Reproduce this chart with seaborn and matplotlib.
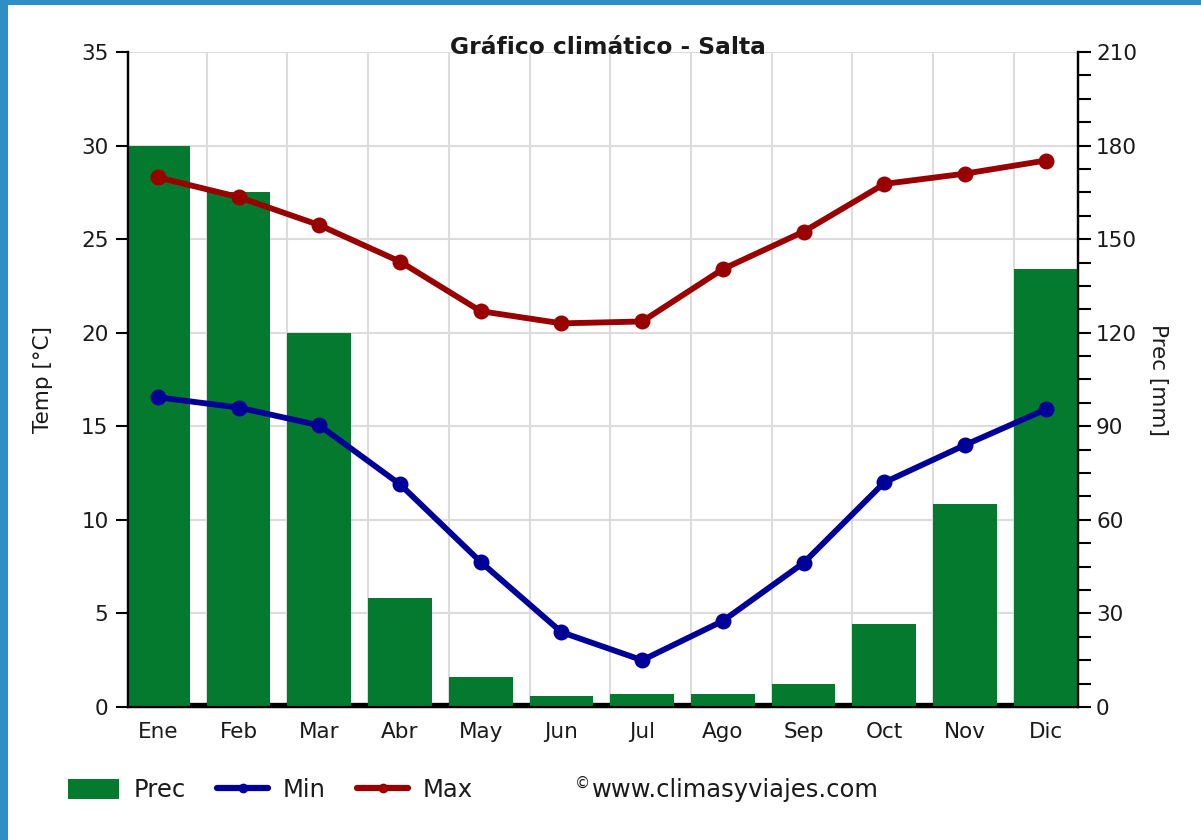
import numpy as np
import matplotlib
matplotlib.use("Agg")
import matplotlib.pyplot as plt
from matplotlib.patches import Rectangle, Patch
from matplotlib.lines import Line2D
from matplotlib.ticker import MultipleLocator, FixedLocator
import seaborn as sns

months = ["Ene", "Feb", "Mar", "Abr", "May", "Jun", "Jul", "Ago", "Sep", "Oct", "Nov", "Dic"]
prec = [180, 165, 120, 35, 9.7, 3.5, 4.3, 4.3, 7.4, 26.5, 65, 140.4]
tmin = [16.55, 16.0, 15.05, 11.9, 7.75, 4.0, 2.5, 4.6, 7.7, 12.0, 14.0, 15.9]
tmax = [28.3, 27.25, 25.75, 23.8, 21.15, 20.5, 20.6, 23.4, 25.4, 27.95, 28.5, 29.2]

GREEN = "#047A2E"
BLUE = "#000099"
RED = "#990000"
GRID = "#DCDCDC"
BORDER = "#2E8FC4"
TXT = "#1a1a1a"

sns.set_style("white")
plt.rcParams["font.family"] = ["DejaVu Sans"]
FS = 15.5
FSL = 17.5

fig = plt.figure(figsize=(12.01, 8.40), dpi=100)
fig.patch.set_facecolor("white")
ax_p = fig.add_axes([128 / 1201, 1 - 707 / 840, 950 / 1201, 655 / 840])
ax_t = ax_p.twinx()

x = np.arange(len(months))
bw = 0.79

# baseline strip
ax_p.axhline(0, color="black", lw=6, zorder=1)
sns.barplot(x=months, y=prec, ax=ax_p, color=GREEN, width=bw, saturation=1,
            zorder=3, edgecolor="none")

sns.lineplot(x=x, y=tmax, ax=ax_t, color=RED, lw=4.2, marker="o", markersize=11.5,
             markeredgewidth=0, zorder=5)
sns.lineplot(x=x, y=tmin, ax=ax_t, color=BLUE, lw=4.2, marker="o", markersize=11.5,
             markeredgewidth=0, zorder=5)

xl = (-0.37, 11.4)
ax_p.set_xlim(*xl)
ax_t.set_xlim(*xl)
ax_p.set_ylim(0, 210)
ax_t.set_ylim(0, 35)

# grid
edges = x - bw / 2
for e in edges[1:]:
    ax_p.axvline(e, color=GRID, lw=1.5, zorder=0)
for v in range(30, 211, 30):
    ax_p.axhline(v, color=GRID, lw=1.5, zorder=0)
ax_p.grid(False)
ax_t.grid(False)

# x ticks: major at bar edges (no labels), minor at centers with labels
ax_p.xaxis.set_major_locator(FixedLocator(edges))
ax_p.set_xticklabels([""] * len(edges))
ax_p.xaxis.set_minor_locator(FixedLocator(x))
ax_p.set_xticklabels(months, minor=True, fontsize=FS, color=TXT)
ax_p.tick_params(axis="x", which="major", length=7, width=1.5, color="black", direction="out")
ax_p.tick_params(axis="x", which="minor", length=0, pad=11)
ax_p.set_xlabel("")

# precip axis on right
ax_p.yaxis.tick_right()
ax_p.yaxis.set_label_position("right")
ax_p.yaxis.set_major_locator(MultipleLocator(30))
ax_p.yaxis.set_minor_locator(MultipleLocator(7.5))
ax_p.tick_params(axis="y", which="both", length=9, width=1.5, color="black",
                 labelsize=FS, labelcolor=TXT, pad=4, direction="out", right=True, left=False)
ax_p.set_ylabel("Prec [mm]", fontsize=FS, color=TXT, rotation=270, labelpad=22)

# temp axis on left
ax_t.yaxis.tick_left()
ax_t.yaxis.set_label_position("left")
ax_t.yaxis.set_major_locator(MultipleLocator(5))
ax_t.tick_params(axis="y", which="both", length=9, width=1.5, color="black",
                 labelsize=FS, labelcolor=TXT, pad=5, direction="out", left=True, right=False)
ax_t.set_ylabel("Temp [°C]", fontsize=FS, color=TXT, labelpad=20)
ax_t.tick_params(axis="x", which="both", length=0, labelbottom=False)

for a in (ax_p, ax_t):
    a.spines["top"].set_visible(False)
    for s in ("left", "right", "bottom"):
        a.spines[s].set_visible(True)
        a.spines[s].set_color("black")
        a.spines[s].set_linewidth(1.6)
ax_t.patch.set_visible(False)

fig.text(608 / 1201, 1 - 47 / 840, "Gráfico climático - Salta", ha="center", va="center",
         fontsize=16.8, fontweight="bold", color=TXT)

handles = [Patch(facecolor=GREEN, edgecolor="none"),
           Line2D([], [], color=BLUE, lw=4.5, marker="o", markersize=6),
           Line2D([], [], color=RED, lw=4.5, marker="o", markersize=6)]
fig.legend(handles, ["Prec", "Min", "Max"], loc="center left",
           bbox_to_anchor=(58 / 1201, 1 - 790 / 840), ncol=3, frameon=False,
           fontsize=FSL, handlelength=2.1, handleheight=0.9, handletextpad=0.6,
           columnspacing=1.3, labelcolor=TXT, borderaxespad=0)

fig.text(575 / 1201, 1 - 791 / 840, "©", fontsize=11, color=TXT, ha="left", va="bottom")
fig.text(592 / 1201, 1 - 790 / 840, "www.climasyviajes.com", fontsize=FSL, color=TXT,
         ha="left", va="center")

fig.patches.append(Rectangle((0, 0), 8 / 1201, 1, transform=fig.transFigure,
                             facecolor=BORDER, edgecolor="none", zorder=10))
fig.patches.append(Rectangle((0, 1 - 5 / 840), 1, 5 / 840, transform=fig.transFigure,
                             facecolor=BORDER, edgecolor="none", zorder=10))

fig.savefig("out.png", dpi=100, facecolor="white")
